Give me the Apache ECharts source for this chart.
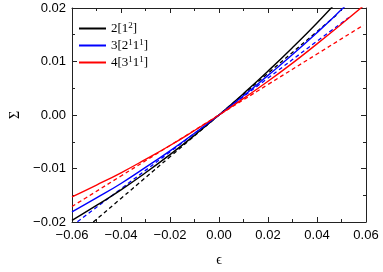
<!DOCTYPE html>
<html><head><meta charset="utf-8">
<script src="https://cdn.jsdelivr.net/npm/echarts@6/dist/echarts.min.js"></script>
<style>html,body{margin:0;padding:0;background:#fff}#c{width:383px;height:272px}</style>
</head><body><div id="c"></div>
<script>
// strain values (x)
const epsSolid = [-0.06,-0.05,-0.04,-0.03,-0.02,-0.01,0,0.01,0.02,0.03,0.04,0.05,0.06];
// solid curves
const sig2Solid = [-0.0197,-0.0169,-0.0140,-0.0108,-0.0074,-0.0038,0,0.0040,0.0082,0.0126,0.0172,0.0221,0.0272];
const sig3Solid = [-0.0181,-0.0155,-0.0128,-0.0098,-0.0067,-0.0034,0,0.0036,0.0074,0.0113,0.0154,0.0197,0.0241];
const sig4Solid = [-0.0153,-0.0131,-0.0108,-0.0083,-0.0057,-0.0029,0,0.0031,0.0063,0.0097,0.0133,0.0170,0.0208];
// dashed curves
const eps2Dash = [-0.06,-0.04,-0.02,0,0.02,0.04,0.048];
const sig2Dash = [-0.0234,-0.0156,-0.0078,0,0.0078,0.0156,0.0187];
const eps3Dash = [-0.06,-0.04,-0.02,0,0.02,0.04,0.053];
const sig3Dash = [-0.0207,-0.0138,-0.0069,0,0.0069,0.0138,0.0182];
const eps4Dash = [-0.06,-0.04,-0.02,0,0.02,0.04,0.059];
const sig4Dash = [-0.0171,-0.0114,-0.0057,0,0.0057,0.0114,0.0168];
const legendNames = ['2[1{s|2}]','3[2{s|1}1{s|1}]','4[3{s|1}1{s|1}]'];
const colors = ['#000000','#0000ff','#ff0000'];

function pairs(xs, ys){ return xs.map((x,i)=>[x,ys[i]]); }
function fmt(v){ if(Math.abs(v)<1e-9) return '0.00'; const s=Math.abs(v).toFixed(2); return (v<0?'\u2212':'')+s; }

const axisLine = {show:true, onZero:false, lineStyle:{color:'#222', width:1}};
const tickLine = {color:'#222', width:1};
function xa(pos, labels){
  return {type:'value', position:pos, min:-0.06, max:0.06, interval:0.02,
    axisLine:axisLine, splitLine:{show:false},
    axisTick:{show:true, inside:true, length:5, lineStyle:tickLine},
    minorTick:{show:true, splitNumber:2, length:3, lineStyle:tickLine},
    axisLabel:{show:labels, formatter:fmt, fontFamily:'Liberation Sans', fontSize:13, color:'#000', margin:7},
    name: labels ? '\u03f5' : '', nameLocation:'middle', nameGap:31,
    nameTextStyle:{fontFamily:'Liberation Serif', fontSize:14, color:'#000'}};
}
function ya(pos, labels){
  return {type:'value', position:pos, min:-0.02, max:0.02, interval:0.01,
    axisLine:axisLine, splitLine:{show:false},
    axisTick:{show:true, inside:true, length:5, lineStyle:tickLine},
    minorTick:{show:true, splitNumber:2, length:3, lineStyle:tickLine},
    axisLabel:{show:labels, formatter:fmt, fontFamily:'Liberation Sans', fontSize:13, color:'#000', margin:6},
    name: labels ? '\u03a3' : '', nameLocation:'middle', nameGap:50, nameRotate:90,
    nameTextStyle:{fontFamily:'Liberation Serif', fontSize:14, color:'#000'}};
}
function solid(name, xs, ys, c){
  return {name:name, type:'line', data:pairs(xs,ys), smooth:true, showSymbol:false, symbol:'none',
    lineStyle:{color:c, width:1.4}, itemStyle:{color:c}, clip:true, z:3};
}
function dashed(xs, ys, c){
  return {name:'d'+c, type:'line', data:pairs(xs,ys), smooth:true, showSymbol:false, symbol:'none',
    lineStyle:{color:c, width:1.3, type:[4,3]}, itemStyle:{color:c}, clip:true, z:2};
}
const chart = echarts.init(document.getElementById('c'), null, {renderer:'canvas'});
chart.setOption({
  animation:false,
  grid:{left:65, right:17, top:8, bottom:44},
  legend:{show:true, orient:'vertical', left:74, top:16, itemGap:2, itemWidth:27, itemHeight:2, icon:'rect',
    data:legendNames,
    textStyle:{fontFamily:'Liberation Serif', fontSize:13, color:'#000', lineHeight:15,
      rich:{s:{fontFamily:'Liberation Serif', fontSize:9, verticalAlign:'top', lineHeight:15}}}},
  xAxis:[xa('bottom', true), xa('top', false)],
  yAxis:[ya('left', true), ya('right', false)],
  series:[
    solid(legendNames[0], epsSolid, sig2Solid, colors[0]),
    solid(legendNames[1], epsSolid, sig3Solid, colors[1]),
    solid(legendNames[2], epsSolid, sig4Solid, colors[2]),
    dashed(eps2Dash, sig2Dash, colors[0]),
    dashed(eps3Dash, sig3Dash, colors[1]),
    dashed(eps4Dash, sig4Dash, colors[2])
  ]
});
</script></body></html>
